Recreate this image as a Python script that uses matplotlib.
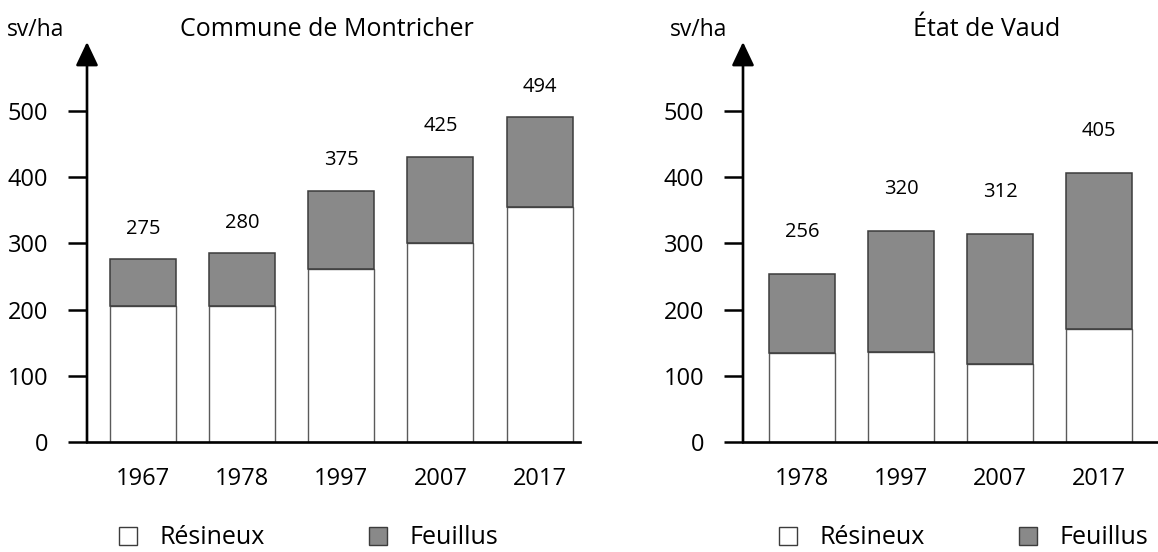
import matplotlib
matplotlib.use("Agg")
import matplotlib.pyplot as plt
from matplotlib.patches import Patch

plt.rcParams['font.family'] = ['Open Sans', 'DejaVu Sans']

# ---- data ----
years_mont = ["1967", "1978", "1997", "2007", "2017"]
resineux_mont = [205, 205, 261, 301, 355]
feuillus_mont = [71, 80, 118, 130, 135]
labels_mont = [275, 280, 375, 425, 494]

years_vaud = ["1978", "1997", "2007", "2017"]
resineux_vaud = [134, 136, 118, 171]
feuillus_vaud = [120, 183, 196, 235]
labels_vaud = [256, 320, 312, 405]

yticks = [0, 100, 200, 300, 400, 500]
title_mont = "Commune de Montricher"
title_vaud = "État de Vaud"
unit = "sv/ha"
legend_labels = ["Résineux", "Feuillus"]

W, H = 1158, 552
fig = plt.figure(figsize=(W / 100, H / 100), dpi=100)

GRAY = "#898989"
EDGE_DARK = "#3c3c3c"
EDGE_WHITE = "#5a5a5a"
FS_TICK = 17
FS_TITLE = 18
FS_UNIT = 16.5
FS_LEG = 18
FS_VAL = 14.5


def px_rect(x0, x1, ybot, ytop):
    return [x0 / W, (H - ybot) / H, (x1 - x0) / W, (ybot - ytop) / H]


def draw(ax, years, res, feu, labels, xlim, lbl_off):
    x = list(range(len(years)))
    totals = [r + f for r, f in zip(res, feu)]
    ax.bar(x, res, width=0.665, color="white", edgecolor=EDGE_WHITE, linewidth=1.0, zorder=2)
    ax.bar(x, feu, bottom=res, width=0.665, color=GRAY, edgecolor=EDGE_DARK, linewidth=1.1, zorder=2)
    for xi, t, lb in zip(x, totals, labels):
        ax.annotate(str(lb), xy=(xi, t), xytext=(0, lbl_off), textcoords="offset points",
                    ha="center", va="center", fontsize=FS_VAL)
    ax.set_xlim(*xlim)
    ax.set_ylim(0, 604)
    for s in ["top", "right", "left"]:
        ax.spines[s].set_visible(False)
    ax.spines["bottom"].set_linewidth(1.9)
    ax.spines["bottom"].set_zorder(3)
    ax.set_yticks(yticks)
    ax.set_yticklabels([str(v) for v in yticks], fontsize=FS_TICK)
    ax.tick_params(axis="y", length=14, width=1.8, pad=14, direction="out")
    ax.set_xticks(x)
    ax.set_xticklabels(years, fontsize=FS_TICK)
    ax.tick_params(axis="x", length=0, pad=18)
    ax.annotate("", xy=(0, 1), xytext=(0, 0), xycoords="axes fraction",
                arrowprops=dict(arrowstyle="-|>,head_length=0.8,head_width=0.38",
                                mutation_scale=18, lw=1.9, color="black",
                                shrinkA=0, shrinkB=0), annotation_clip=False, zorder=4)
    ax.patch.set_alpha(0)


ax1 = fig.add_axes(px_rect(87, 580, 442, 42))
draw(ax1, years_mont, resineux_mont, feuillus_mont, labels_mont, (-0.564, 4.408), 22)

ax2 = fig.add_axes(px_rect(743, 1158, 442, 42))
draw(ax2, years_vaud, resineux_vaud, feuillus_vaud, labels_vaud, (-0.596, 3.596), 30)

fig.text(36 / W, 1 - 30 / H, unit, ha="center", va="center", fontsize=FS_UNIT)
fig.text(327 / W, 1 - 30 / H, title_mont, ha="center", va="center", fontsize=FS_TITLE)
fig.text(699 / W, 1 - 30 / H, unit, ha="center", va="center", fontsize=FS_UNIT)
fig.text(987 / W, 1 - 30 / H, title_vaud, ha="center", va="center", fontsize=FS_TITLE)

handles = [Patch(facecolor="white", edgecolor=EDGE_DARK, linewidth=1.0),
           Patch(facecolor=GRAY, edgecolor=EDGE_DARK, linewidth=1.0)]
for ax, xl, cs in [(ax1, 119, 4.2), (ax2, 779, 3.8)]:
    ax.legend(handles, legend_labels, ncol=2, frameon=False, loc="center left",
              bbox_to_anchor=(xl / W, (H - 538) / H), bbox_transform=fig.transFigure,
              handlelength=0.7, handleheight=0.7, handletextpad=0.9,
              columnspacing=cs, fontsize=FS_LEG, borderpad=0, borderaxespad=0)

fig.savefig("out.png", dpi=100)
